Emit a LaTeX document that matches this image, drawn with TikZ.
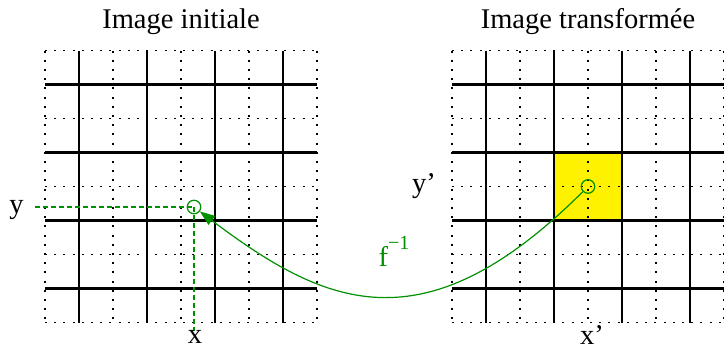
\documentclass[tikz,border=0pt]{standalone}
\usepackage{fontspec}
\setmainfont{Liberation Serif}
\usetikzlibrary{arrows.meta}
\definecolor{fgreen}{RGB}{0,144,0}
\tikzset{
  dotgrid/.style={line width=1.5pt, dash pattern=on 2pt off 7.2pt, black},
  thickgrid/.style={line width=2.5pt, black},
  guide/.style={fgreen, line width=1.2pt, dash pattern=on 5pt off 3pt},
  pt/.style={circle, draw=fgreen, line width=1.2pt, minimum size=13.5pt, inner sep=0pt},
  lbl/.style={font=\fontsize{28.5}{34}\selectfont, inner sep=0pt, anchor=base},
  curvearrow/.style={fgreen, line width=1.2pt, -{Triangle[length=15pt,width=11pt]}}
}
\begin{document}
\begin{tikzpicture}[x=1pt,y=-1pt]
\useasboundingbox (0,0) rectangle (724,349);
% yellow cell
\fill[yellow] (554,152.5) rectangle (622,220.5);
% grids
\foreach \xo in {45,452}{
  \foreach \i in {0,68,136,204,272}{
    \draw[dotgrid] (\xo+\i,50.5) -- (\xo+\i,322.5);
    \draw[dotgrid] (\xo,50.5+\i) -- (\xo+272,50.5+\i);
  }
  \foreach \i in {34,102,170,238}{
    \draw[thickgrid] (\xo+\i,50.5) -- (\xo+\i,322.5);
    \draw[thickgrid] (\xo,50.5+\i) -- (\xo+272,50.5+\i);
  }
}
% titles
\node[lbl] (t1) at (181,28) {Image initiale};
\node[lbl] (t2) at (588,28) {Image transformée};
% points
\node[pt] (p) at (194,207) {};
\node[pt] (q) at (588,186.5) {};
% guides
\coordinate (ye) at (35,207);
\coordinate (xe) at (194,331);
\draw[guide] (ye) -- (p.center);
\draw[guide] (p.center) -- (xe);
% labels
\node[lbl] (ly) at (16.5,213) {y};
\node[lbl] (lx) at (195,343.5) {x};
\node[lbl, anchor=base west] (lyp) at (412,192) {y'};
\node[lbl, anchor=base west] (lxp) at (580,344) {x'};
\node[lbl, anchor=base west, text=fgreen] (lf) at (378.5,266.7) {f\raisebox{17pt}{\fontsize{20}{24}\selectfont −1}};
% mapping arrow
\draw[curvearrow] (q) .. controls (423,351) and (324,305) .. (p);
\end{tikzpicture}
\end{document}
